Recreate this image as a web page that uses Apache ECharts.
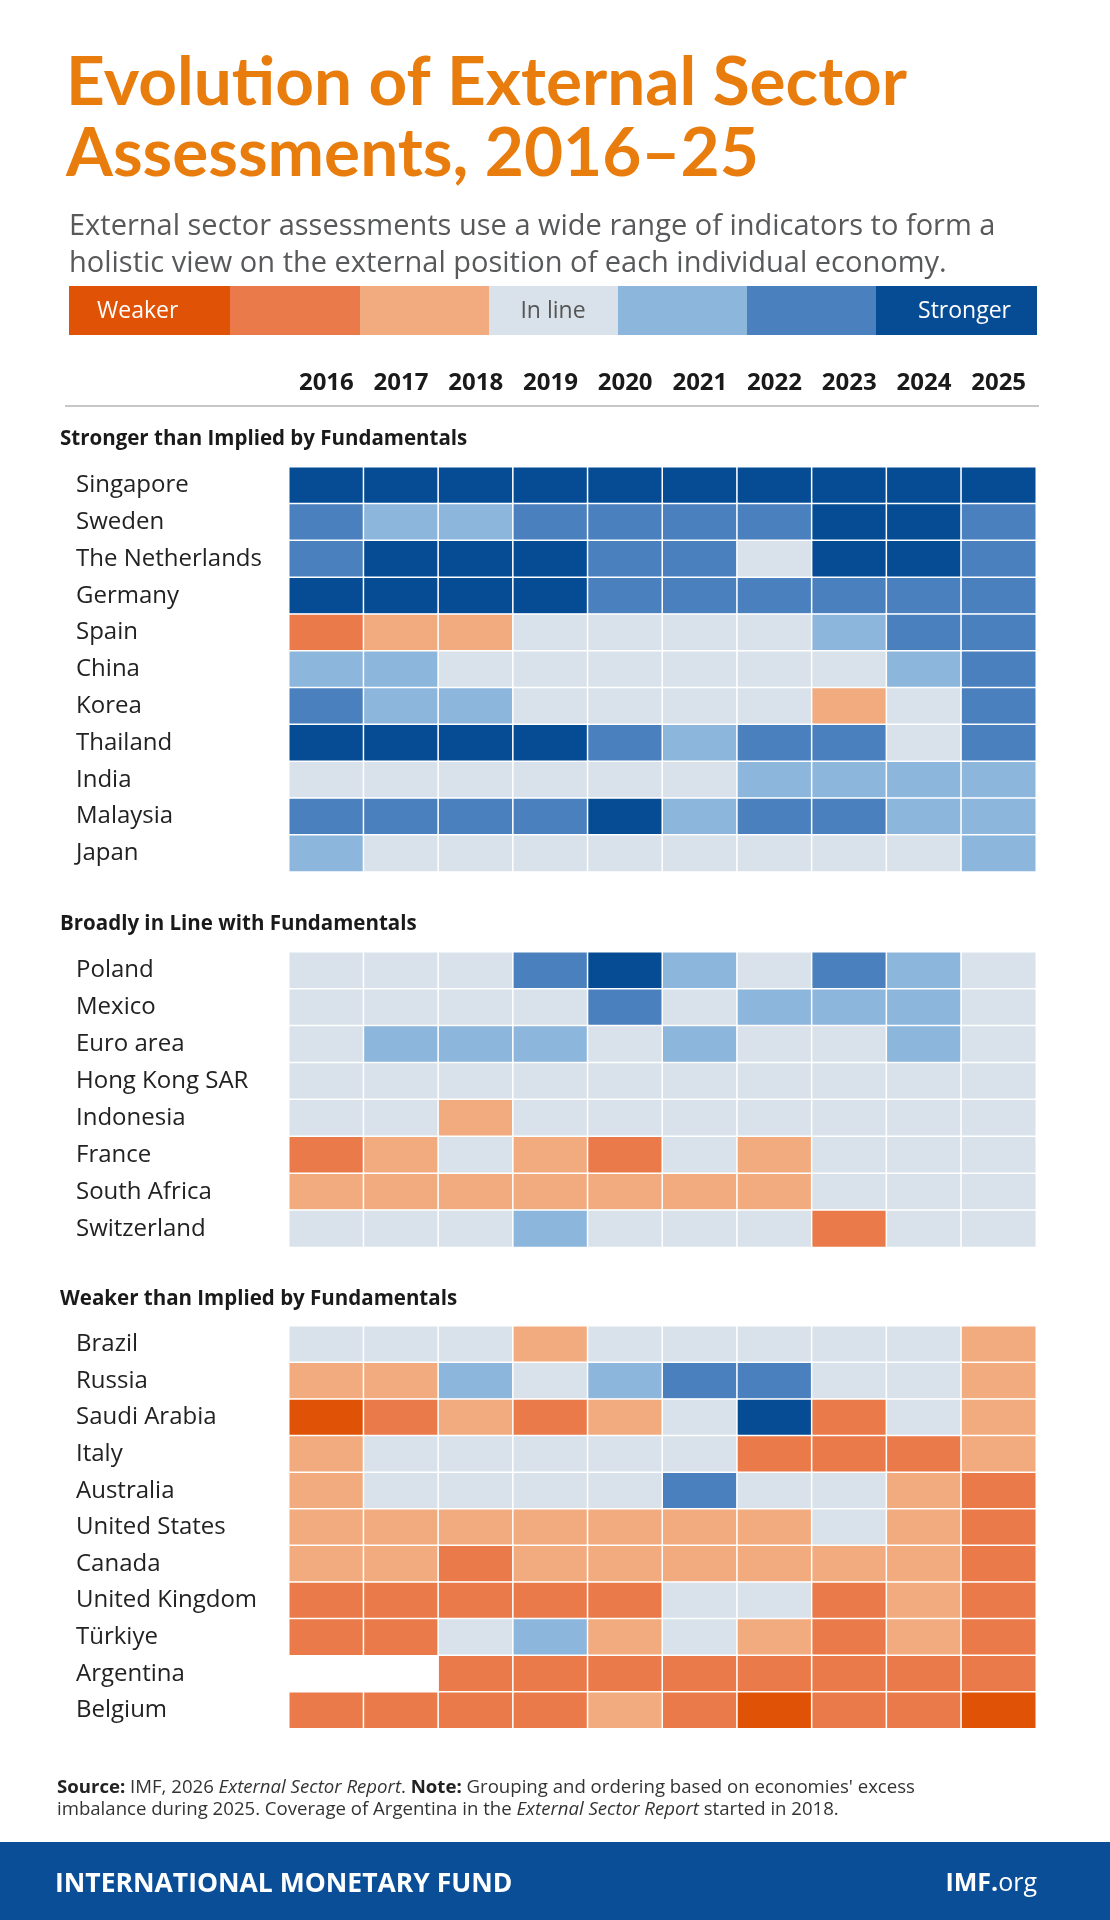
<!DOCTYPE html>
<html lang="en">
<head>
<meta charset="UTF-8">
<title>Evolution of External Sector Assessments, 2016-25</title>
<script src="https://cdn.jsdelivr.net/npm/echarts@6/dist/echarts.min.js"></script>
<style>
    html, body { margin: 0; padding: 0; background: #ffffff; }
    #box { width: 1110px; height: 1920px; }
</style>
</head>
<body>
<div id="box"></div>
<script>
    // years along the top
    var years = ['2016', '2017', '2018', '2019', '2020', '2021', '2022', '2023', '2024', '2025'];

    // -3 = weaker ... 0 = in line ... 3 = stronger
    var strongerNames = ['Singapore', 'Sweden', 'The Netherlands', 'Germany', 'Spain', 'China', 'Korea', 'Thailand', 'India', 'Malaysia', 'Japan'];
    var strongerValues = [
        [3, 3, 3, 3, 3, 3, 3, 3, 3, 3],
        [2, 1, 1, 2, 2, 2, 2, 3, 3, 2],
        [2, 3, 3, 3, 2, 2, 0, 3, 3, 2],
        [3, 3, 3, 3, 2, 2, 2, 2, 2, 2],
        [-2, -1, -1, 0, 0, 0, 0, 1, 2, 2],
        [1, 1, 0, 0, 0, 0, 0, 0, 1, 2],
        [2, 1, 1, 0, 0, 0, 0, -1, 0, 2],
        [3, 3, 3, 3, 2, 1, 2, 2, 0, 2],
        [0, 0, 0, 0, 0, 0, 1, 1, 1, 1],
        [2, 2, 2, 2, 3, 1, 2, 2, 1, 1],
        [1, 0, 0, 0, 0, 0, 0, 0, 0, 1]
    ];

    var inLineNames = ['Poland', 'Mexico', 'Euro area', 'Hong Kong SAR', 'Indonesia', 'France', 'South Africa', 'Switzerland'];
    var inLineValues = [
        [0, 0, 0, 2, 3, 1, 0, 2, 1, 0],
        [0, 0, 0, 0, 2, 0, 1, 1, 1, 0],
        [0, 1, 1, 1, 0, 1, 0, 0, 1, 0],
        [0, 0, 0, 0, 0, 0, 0, 0, 0, 0],
        [0, 0, -1, 0, 0, 0, 0, 0, 0, 0],
        [-2, -1, 0, -1, -2, 0, -1, 0, 0, 0],
        [-1, -1, -1, -1, -1, -1, -1, 0, 0, 0],
        [0, 0, 0, 1, 0, 0, 0, -2, 0, 0]
    ];

    var weakerNames = ['Brazil', 'Russia', 'Saudi Arabia', 'Italy', 'Australia', 'United States', 'Canada', 'United Kingdom', 'Türkiye', 'Argentina', 'Belgium'];
    var weakerValues = [
        [0, 0, 0, -1, 0, 0, 0, 0, 0, -1],
        [-1, -1, 1, 0, 1, 2, 2, 0, 0, -1],
        [-3, -2, -1, -2, -1, 0, 3, -2, 0, -1],
        [-1, 0, 0, 0, 0, 0, -2, -2, -2, -1],
        [-1, 0, 0, 0, 0, 2, 0, 0, -1, -2],
        [-1, -1, -1, -1, -1, -1, -1, 0, -1, -2],
        [-1, -1, -2, -1, -1, -1, -1, -1, -1, -2],
        [-2, -2, -2, -2, -2, 0, 0, -2, -1, -2],
        [-2, -2, 0, 1, -1, 0, -1, -2, -1, -2],
        [null, null, -2, -2, -2, -2, -2, -2, -2, -2],
        [-2, -2, -2, -2, -1, -2, -3, -2, -2, -3]
    ];

    // colour scale, weaker -> stronger
    var levels = [-3, -2, -1, 0, 1, 2, 3];
    var levelColors = ['#E05206', '#EB7A4B', '#F2AB7E', '#D9E2EA', '#8DB6DD', '#4A80BE', '#054C94'];
    var legendWidths = [161, 130, 129, 129, 129, 129, 161];

    var orange = '#E87D0E';
    var navy = '#0A4E98';
    var font = '"Open Sans"';

    var chartDom = document.getElementById('box');
    var myChart = echarts.init(chartDom, null, { renderer: 'canvas' });

    function toCells(values) {
        var out = [];
        values.forEach(function (row, r) {
            row.forEach(function (v, c) {
                if (v !== null) out.push([c, r, v]);
            });
        });
        return out;
    }

    var sections = [
        { title: 'Stronger than Implied by Fundamentals', names: strongerNames, values: strongerValues, top: 467, rowH: 36.8, titleY: 437 },
        { title: 'Broadly in Line with Fundamentals', names: inLineNames, values: inLineValues, top: 952, rowH: 36.9, titleY: 922 },
        { title: 'Weaker than Implied by Fundamentals', names: weakerNames, values: weakerValues, top: 1326, rowH: 36.6, titleY: 1297 }
    ];

    var grids = [], xAxes = [], yAxes = [], series = [];
    sections.forEach(function (s, i) {
        grids.push({ left: 289, top: s.top, width: 747, height: s.rowH * s.names.length });
        xAxes.push({
            type: 'category',
            gridIndex: i,
            data: years,
            position: 'top',
            show: i === 0,
            offset: 64,
            axisLine: { show: false },
            axisTick: { show: false },
            splitLine: { show: false },
            axisLabel: { margin: 8, fontFamily: font, fontWeight: 'bold', fontSize: 24, color: '#1a1a1a' }
        });
        yAxes.push({
            type: 'category',
            gridIndex: i,
            data: s.names,
            inverse: true,
            axisLine: { show: false },
            axisTick: { show: false },
            splitLine: { show: false },
            axisLabel: { margin: 213, align: 'left', fontFamily: font, fontSize: 24, color: '#222' }
        });
        series.push({
            type: 'heatmap',
            xAxisIndex: i,
            yAxisIndex: i,
            data: toCells(s.values),
            itemStyle: { borderColor: '#ffffff', borderWidth: 1.5 },
            emphasis: { disabled: true }
        });
    });

    var graphics = [];
    // title + subtitle
    graphics.push({
        type: 'text', left: 66, top: 48,
        style: { text: 'Evolution of External Sector\nAssessments, 2016–25', fill: orange, font: 'bold 67.5px Lato', lineHeight: 71 }
    });
    graphics.push({
        type: 'text', left: 69, top: 208,
        style: { text: 'External sector assessments use a wide range of indicators to form a\nholistic view on the external position of each individual economy.', fill: '#58595b', font: '29px ' + font, lineHeight: 37 }
    });

    // legend bar
    var lx = 69;
    levelColors.forEach(function (c, k) {
        graphics.push({ type: 'rect', shape: { x: lx, y: 286, width: legendWidths[k], height: 49 }, style: { fill: c } });
        lx += legendWidths[k];
    });
    graphics.push({ type: 'text', x: 97, y: 311, style: { text: 'Weaker', fill: '#fff', font: '23px ' + font, verticalAlign: 'middle' } });
    graphics.push({ type: 'text', x: 553, y: 311, style: { text: 'In line', fill: '#555', font: '23px ' + font, align: 'center', verticalAlign: 'middle' } });
    graphics.push({ type: 'text', x: 1011, y: 311, style: { text: 'Stronger', fill: '#fff', font: '23px ' + font, align: 'right', verticalAlign: 'middle' } });

    // rule under the years
    graphics.push({ type: 'line', shape: { x1: 65, y1: 406, x2: 1039, y2: 406 }, style: { stroke: '#b5b5b5', lineWidth: 1.5 } });

    // section headers
    sections.forEach(function (s) {
        graphics.push({ type: 'text', left: 60, top: s.titleY - 8, style: { text: s.title, fill: '#1a1a1a', font: 'bold 20.5px ' + font } });
    });

    // source note
    graphics.push({
        type: 'text', left: 57, top: 1777,
        style: {
            text: '{b|Source:} IMF, 2026 {i|External Sector Report}. {b|Note:} Grouping and ordering based on economies\' excess\nimbalance during 2025. Coverage of Argentina in the {i|External Sector Report} started in 2018.',
            fill: '#333', font: '18.6px ' + font, lineHeight: 22,
            rich: {
                b: { fontWeight: 'bold', fontFamily: font, fontSize: 18.6, fill: '#222' },
                i: { fontStyle: 'italic', fontFamily: font, fontSize: 18.6, fill: '#333' }
            }
        }
    });

    // footer band
    graphics.push({ type: 'rect', shape: { x: 0, y: 1842, width: 1110, height: 78 }, style: { fill: navy } });
    graphics.push({ type: 'text', x: 55, y: 1884, style: { text: 'INTERNATIONAL MONETARY FUND', fill: '#fff', font: 'bold 26.5px ' + font, verticalAlign: 'middle' } });
    graphics.push({
        type: 'text', x: 1037, y: 1884,
        style: {
            text: '{b|IMF.}{r|org}', align: 'right', verticalAlign: 'middle', fill: '#fff',
            rich: {
                b: { fontWeight: 'bold', fontFamily: font, fontSize: 25, fill: '#fff' },
                r: { fontFamily: font, fontSize: 25, fill: '#fff' }
            }
        }
    });

    var option = {
        backgroundColor: '#ffffff',
        animation: false,
        tooltip: { show: false },
        grid: grids,
        xAxis: xAxes,
        yAxis: yAxes,
        visualMap: {
            type: 'piecewise',
            show: false,
            seriesIndex: [0, 1, 2],
            pieces: levels.map(function (v, k) { return { value: v, color: levelColors[k] }; })
        },
        series: series,
        graphic: graphics
    };

    option && myChart.setOption(option);
</script>
</body>
</html>
